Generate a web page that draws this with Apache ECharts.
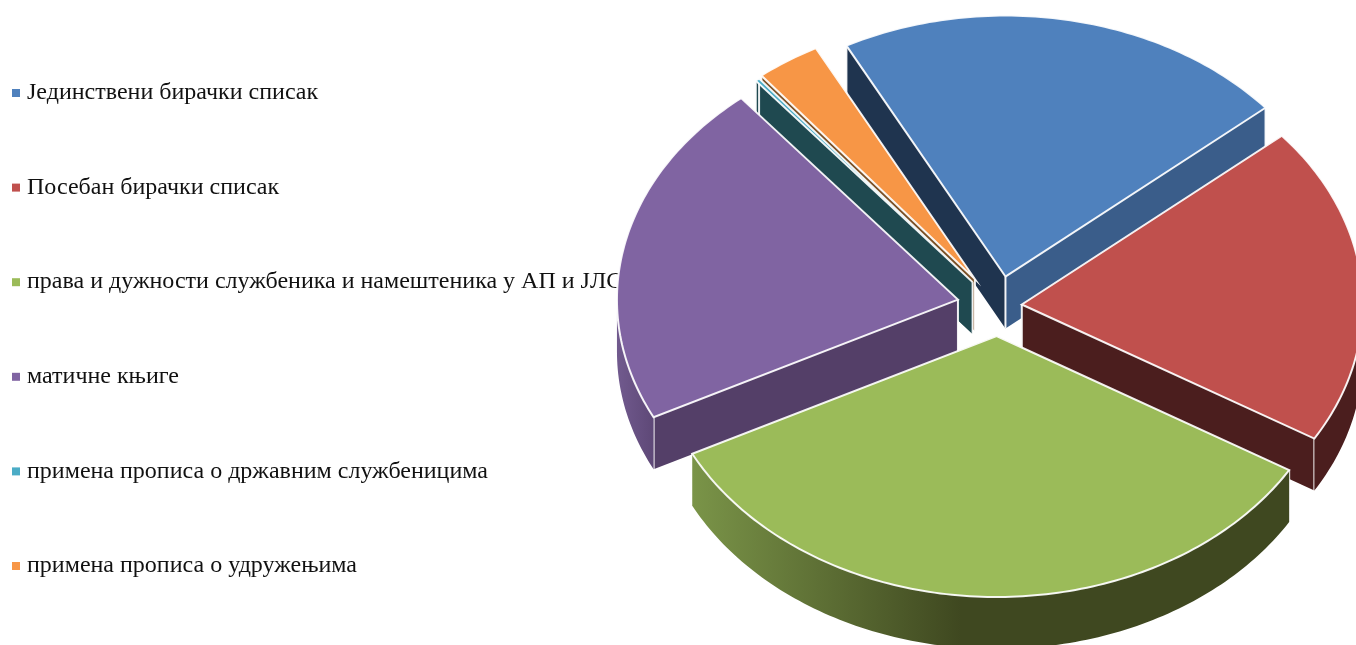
<!DOCTYPE html>
<html>
<head>
<meta charset="utf-8">
<style>
  html, body { margin: 0; padding: 0; background: #fff; }
  #chart { width: 1356px; height: 645px; }
</style>
<script src="https://cdn.jsdelivr.net/npm/echarts@6/dist/echarts.min.js"></script>
</head>
<body>
<div id="chart"></div>
<script>
const categories = [
  'Јединствени бирачки списак',
  'Посебан бирачки списак',
  'права и дужности службеника и намештеника у АП и ЈЛС',
  'матичне књиге',
  'примена прописа о државним службеницима',
  'примена прописа о удружењима'
]
const values = [21.55, 19.8, 34, 21.5, 0.2, 3.05]

// how far each slice is pulled out of the pie
const explode = [0.115, 0.07, 0.115, 0.12, 0.118, 0.1235]
// back to front
const drawOrder = [0, 5, 4, 3, 1, 2]
const topColors = ['#4f81bd', '#c0504d', '#9bbb59', '#8064a2', '#4bacc6', '#f79646']
const startWall = ['#1f344f', '#4b1e1e', '#4b1e1e', '#543f68', '#1f4950', '#7a4f24']
const endWall = ['#3a5d8a', '#4b1e1e', '#3f4820', '#543f68', '#1f4950', '#7a4f24']

const cx = 998
const cy = 306
const rx = 341
const ry = 261
const depth = 52
const firstAngle = -27.8
const edge = 'rgba(255,255,255,0.92)'

const total = values.reduce((a, b) => a + b, 0)

function rimFill (index) {
  if (index === 2) {
    return new echarts.graphic.LinearGradient(0, 0, 1, 0, [
      { offset: 0, color: '#7a9448' },
      { offset: 0.45, color: '#3f4820' },
      { offset: 1, color: '#3f4820' }
    ])
  }
  if (index === 3) {
    return new echarts.graphic.LinearGradient(0, 0, 1, 0, [
      { offset: 0, color: '#715a8e' },
      { offset: 1, color: '#5e4877' }
    ])
  }
  return startWall[index]
}

function arcPoints (ax, ay, from, to, shift) {
  const pts = []
  const steps = Math.max(2, Math.ceil(Math.abs(to - from)))
  for (let i = 0; i <= steps; i++) {
    const t = (from + (to - from) * i / steps) * Math.PI / 180
    pts.push([ax + rx * Math.sin(t), ay - ry * Math.cos(t) + shift])
  }
  return pts
}

function vertical (x, y) {
  return {
    type: 'line',
    shape: { x1: x, y1: y, x2: x, y2: y + depth },
    style: { stroke: edge, lineWidth: 2 }
  }
}

function sliceRenderer (index) {
  return function (params, api) {
    const value = api.value(0)
    let before = 0
    for (let i = 0; i < index; i++) before += values[i]
    const from = firstAngle + before / total * 360
    const to = from + value / total * 360
    const mid = (from + to) / 2 * Math.PI / 180
    const ax = cx + explode[index] * rx * Math.sin(mid)
    const ay = cy - explode[index] * ry * Math.cos(mid)
    const arc = arcPoints(ax, ay, from, to, 0)
    const a = arc[0]
    const b = arc[arc.length - 1]
    const children = []

    // the two cut faces
    children.push({
      type: 'polygon',
      shape: { points: [[ax, ay], a, [a[0], a[1] + depth], [ax, ay + depth]] },
      style: { fill: startWall[index] }
    })
    children.push({
      type: 'polygon',
      shape: { points: [[ax, ay], b, [b[0], b[1] + depth], [ax, ay + depth]] },
      style: { fill: endWall[index] }
    })
    children.push(vertical(ax, ay), vertical(a[0], a[1]), vertical(b[0], b[1]))

    // outer rim, only the part facing the viewer
    const rimFrom = Math.max(from, 90)
    const rimTo = Math.min(to, 270)
    if (rimTo > rimFrom) {
      const upper = arcPoints(ax, ay, rimFrom, rimTo, 0)
      const lower = arcPoints(ax, ay, rimFrom, rimTo, depth).reverse()
      children.push({
        type: 'polygon',
        shape: { points: upper.concat(lower) },
        style: { fill: rimFill(index) }
      })
    }

    children.push({
      type: 'polygon',
      shape: { points: [[ax, ay]].concat(arc) },
      style: { fill: topColors[index], stroke: edge, lineWidth: 2, lineJoin: 'miter' }
    })
    return { type: 'group', children: children }
  }
}

const chart = echarts.init(document.getElementById('chart'), null, { renderer: 'canvas' })

chart.setOption({
  animation: false,
  backgroundColor: '#fff',
  color: topColors,
  legend: {
    show: true,
    orient: 'vertical',
    left: 7,
    top: 71,
    z: 1,
    icon: 'rect',
    itemWidth: 8,
    itemHeight: 8,
    itemGap: 60.6,
    selectedMode: false,
    textStyle: {
      fontFamily: 'Liberation Serif',
      fontSize: 24,
      lineHeight: 28,
      color: '#111',
      padding: [6, 0, 0, 2]
    },
    data: categories
  },
  series: categories.map((name, index) => ({
    type: 'custom',
    name: name,
    coordinateSystem: 'none',
    z: 2 + drawOrder.indexOf(index),
    silent: true,
    data: [[values[index]]],
    itemStyle: { color: topColors[index] },
    renderItem: sliceRenderer(index)
  }))
})
</script>
</body>
</html>
